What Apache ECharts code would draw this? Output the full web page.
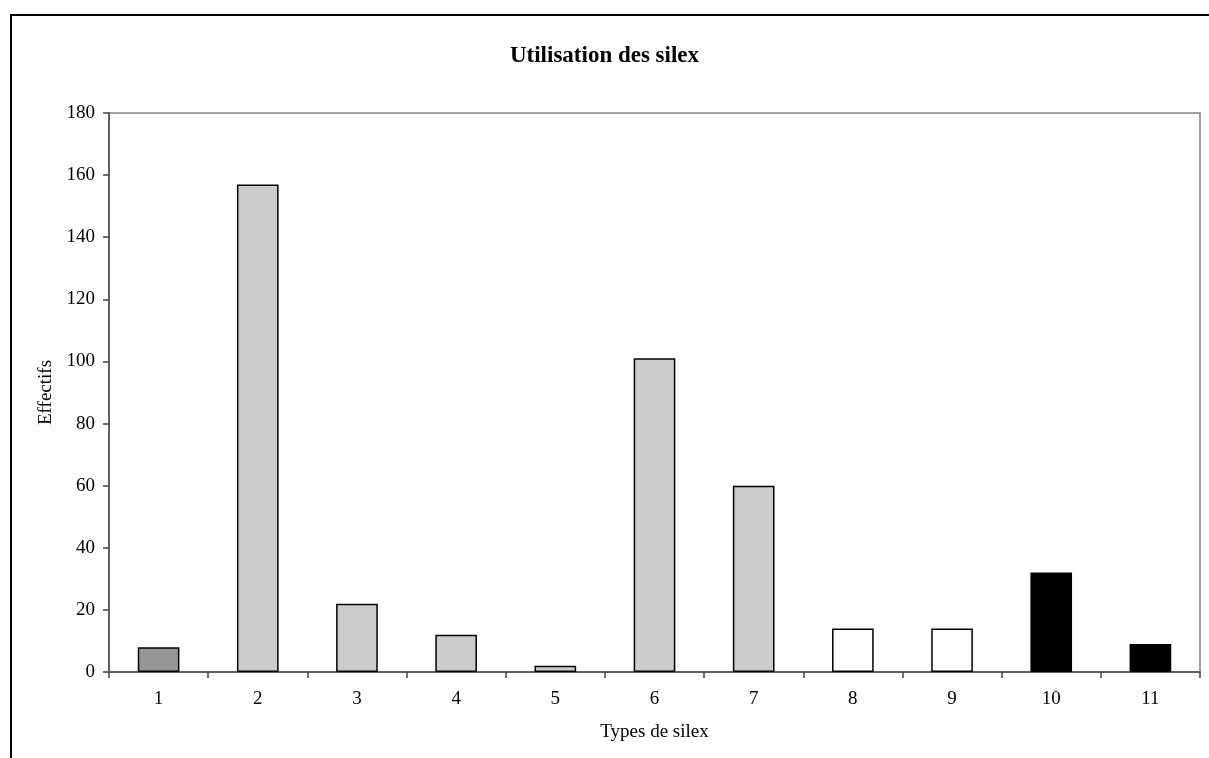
<!DOCTYPE html>
<html>
<head>
<meta charset="utf-8">
<script src="https://cdn.jsdelivr.net/npm/echarts@6/dist/echarts.min.js"></script>
<style>
html,body{margin:0;padding:0;background:#fff;}
#chart{width:1209px;height:758px;}
</style>
</head>
<body>
<div id="chart"></div>
<script>
const categories = ['1','2','3','4','5','6','7','8','9','10','11'];
const values = [8, 157, 22, 12, 2, 101, 60, 14, 14, 32, 9];
const barColors = ['#969696','#cccccc','#cccccc','#cccccc','#cccccc','#cccccc','#cccccc','#ffffff','#ffffff','#000000','#000000'];
const yTicks = [0, 20, 40, 60, 80, 100, 120, 140, 160, 180];

const chart = echarts.init(document.getElementById('chart'));
const font = 'Liberation Serif';
chart.setOption({
  animation: false,
  backgroundColor: '#ffffff',
  graphic: [{
    type: 'rect',
    shape: { x: 11, y: 15, width: 1210, height: 800 },
    style: { fill: 'none', stroke: '#000', lineWidth: 2 },
    silent: true
  }],
  title: {
    text: 'Utilisation des silex',
    left: 'center',
    top: 40,
    textStyle: { fontFamily: font, fontSize: 23, fontWeight: 'bold', color: '#000' }
  },
  grid: {
    left: 109, right: 9, top: 113, bottom: 86,
    show: true, borderColor: '#a0a0a0', borderWidth: 2, backgroundColor: 'transparent'
  },
  xAxis: {
    type: 'category',
    data: categories,
    name: 'Types de silex',
    nameLocation: 'middle',
    nameGap: 51,
    nameTextStyle: { fontFamily: font, fontSize: 19, color: '#000' },
    axisLine: { lineStyle: { color: '#606060', width: 2 } },
    axisTick: { show: true, length: 6, lineStyle: { color: '#404040', width: 1.5 } },
    axisLabel: { fontFamily: font, fontSize: 19, color: '#000', margin: 18 },
    splitLine: { show: false }
  },
  yAxis: {
    type: 'value',
    min: 0, max: 180, interval: 20,
    name: 'Effectifs',
    nameLocation: 'middle',
    nameGap: 53,
    nameTextStyle: { fontFamily: font, fontSize: 19, color: '#000' },
    axisLine: { show: true, lineStyle: { color: '#606060', width: 2 } },
    axisTick: { show: true, length: 6, lineStyle: { color: '#404040', width: 1.5 } },
    axisLabel: { fontFamily: font, fontSize: 19, color: '#000', margin: 14,
      formatter: v => yTicks.includes(v) ? String(v) : '' },
    splitLine: { show: false }
  },
  series: [{
    type: 'bar',
    barWidth: '42%',
    data: values.map((v, i) => ({
      value: v,
      itemStyle: { color: barColors[i], borderColor: '#000', borderWidth: 1.5 }
    }))
  }]
});
</script>
</body>
</html>
